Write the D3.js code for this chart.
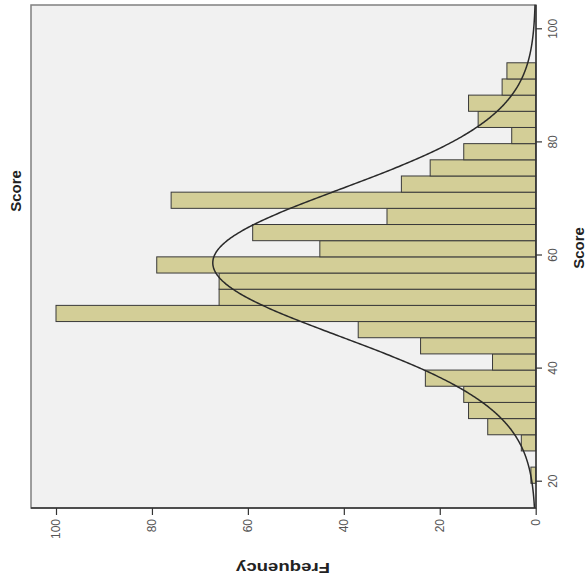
<!DOCTYPE html>
<html>
<head>
<meta charset="utf-8">
<script src="https://cdn.jsdelivr.net/npm/d3@7/dist/d3.min.js"></script>
<style>
  body { margin: 0; background: #fff; }
  text { font-family: "Liberation Sans", Arial, sans-serif; }
</style>
</head>
<body>
<div id="chart"></div>
<script>
// histogram bins (lower edges + last upper edge) and counts
const binEdges = [19.72, 22.58, 25.44, 28.30, 31.16, 34.02, 36.88, 39.74, 42.60,
    45.46, 48.32, 51.18, 54.04, 56.90, 59.76, 62.62, 65.48, 68.34, 71.20,
    74.06, 76.92, 79.78, 82.64, 85.50, 88.36, 91.22, 94.08];
const counts = [1, 0, 3, 10, 14, 15, 23, 9, 24, 37, 100, 66, 66, 79, 45,
    59, 31, 76, 28, 22, 15, 5, 12, 14, 7, 6];
const scoreTicks = [20, 40, 60, 80, 100];
const freqTicks = [0, 20, 40, 60, 80, 100];

// normal curve fitted by SPSS
const meanScore = 58.7;
const sdScore = 13.0;
const nCases = 767;

const width = 587;
const height = 582;

const svg = d3.select("#chart")
    .append("svg")
    .attr("width", width)
    .attr("height", height);

// the chart is drawn upright and then turned 90 degrees counter-clockwise
const g = svg.append("g")
    .attr("transform", `translate(0,${height}) rotate(-90)`);

const plot = { left: 74, right: 577, top: 31, bottom: 536 };

const x = d3.scaleLinear().domain([20, 100]).range([100.3, 552.7]);
const y = d3.scaleLinear().domain([0, 100]).range([535.7, 56]);

// plot background
g.append("rect")
    .attr("x", plot.left)
    .attr("y", plot.top)
    .attr("width", plot.right - plot.left)
    .attr("height", plot.bottom - plot.top)
    .attr("fill", "#f1f1f1")
    .attr("stroke", "#808080")
    .attr("stroke-width", 1.5);

// bars
const bins = counts.map((c, i) => ({ x0: binEdges[i], x1: binEdges[i + 1], n: c }));

g.selectAll(".bar")
    .data(bins.filter(d => d.n > 0))
    .join("rect")
    .attr("class", "bar")
    .attr("x", d => x(d.x0))
    .attr("y", d => y(d.n))
    .attr("width", d => x(d.x1) - x(d.x0))
    .attr("height", d => y(0) - y(d.n))
    .attr("fill", "#d3ce97")
    .attr("stroke", "#3a3a3a")
    .attr("stroke-width", 1);

// normal curve
const binW = binEdges[1] - binEdges[0];
const xMin = x.invert(plot.left);
const xMax = x.invert(plot.right);
const curvePts = d3.range(xMin, xMax + 0.2, 0.2).map(s => {
    const z = (s - meanScore) / sdScore;
    return [s, nCases * binW * Math.exp(-0.5 * z * z) / (sdScore * Math.sqrt(2 * Math.PI))];
});

g.append("path")
    .datum(curvePts)
    .attr("fill", "none")
    .attr("stroke", "#2a2a2a")
    .attr("stroke-width", 1.5)
    .attr("d", d3.line().x(d => x(d[0])).y(d => y(d[1])).curve(d3.curveBasis));

// axes
const xAxis = g.append("g")
    .attr("transform", `translate(0,${plot.bottom})`)
    .call(d3.axisBottom(x).tickValues(scoreTicks).tickSize(6).tickPadding(6));

const yAxis = g.append("g")
    .attr("transform", `translate(${plot.left},0)`)
    .call(d3.axisLeft(y).tickValues(freqTicks).tickSize(7).tickPadding(4));

[xAxis, yAxis].forEach(a => {
    a.select(".domain").remove();
    a.selectAll(".tick line").attr("stroke", "#333").attr("stroke-width", 1.2);
    a.selectAll(".tick text")
        .attr("fill", "#555")
        .style("font-size", "12px");
});

g.append("line")
    .attr("x1", plot.left).attr("x2", plot.right)
    .attr("y1", plot.bottom).attr("y2", plot.bottom)
    .attr("stroke", "#333").attr("stroke-width", 1.4);

g.append("line")
    .attr("x1", plot.left).attr("x2", plot.left)
    .attr("y1", plot.top).attr("y2", plot.bottom)
    .attr("stroke", "#333").attr("stroke-width", 1.4);

// titles
g.append("text")
    .attr("x", 391)
    .attr("y", 21)
    .attr("text-anchor", "middle")
    .style("font-size", "15px")
    .style("font-weight", "bold")
    .attr("fill", "#222")
    .text("Score");

g.append("text")
    .attr("x", 334)
    .attr("y", 584)
    .attr("text-anchor", "middle")
    .style("font-size", "15px")
    .style("font-weight", "bold")
    .attr("fill", "#222")
    .text("Score");

g.append("text")
    .attr("transform", "translate(19,283) rotate(-90)")
    .attr("text-anchor", "middle")
    .attr("textLength", 94)
    .attr("lengthAdjust", "spacingAndGlyphs")
    .style("font-size", "15px")
    .style("font-weight", "bold")
    .attr("fill", "#222")
    .text("Frequency");
</script>
</body>
</html>
